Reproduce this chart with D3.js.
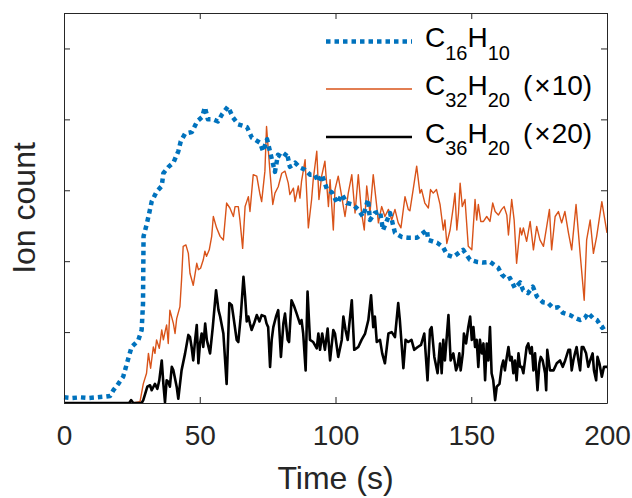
<!DOCTYPE html>
<html>
<head>
<meta charset="utf-8">
<script src="https://cdn.jsdelivr.net/npm/d3@7"></script>
<style>
  body { margin: 0; background: #fff; }
  svg { display: block; font-family: "Liberation Sans", Arial, sans-serif; }
</style>
</head>
<body>
<div id="chart"></div>
<script>
// tick values
var xTicks = [0, 50, 100, 150, 200];
var yTicks = [0, 1, 2, 3, 4, 5];

// C16H10 (blue dotted)
var tBlue = [0, 3, 6, 9, 12, 15, 17, 18.2, 20, 21.8, 23.7, 24.9, 26.5, 27.4, 28.6, 29.1, 29.3, 30.4, 31.4, 32.3,
  34.1, 36.0, 36.6, 38.5, 40.3, 42.1, 43.0, 44.6, 47.1, 49.0, 50.8, 51.9, 53.0, 54.9, 56.7, 58.2, 60.4, 62.2,
  64.1, 67.4, 69.2, 72.2, 73.3, 74.8, 76.6, 77.7, 78.8, 80.7, 82.1, 83.2, 85.1, 86.9, 88.8, 90.6, 92.4, 93.6,
  95.0, 96.9, 98.7, 100.6, 102.4, 104.2, 106.4, 108.3, 110.1, 112.0, 112.7, 114.5, 116.4, 117.5, 120.1, 121.9,
  124.5, 126.7, 130.0, 133.7, 134.1, 137.4, 139.6, 141.1, 143.3, 147.0, 149.5, 152.1, 154.3, 156.9, 159.9,
  161.3, 163.2, 164.3, 166.1, 168.0, 169.1, 170.9, 172.7, 174.2, 176.4, 178.3, 180.1, 182.0, 183.8, 186.4,
  188.2, 190.1, 191.9, 193.0, 194.8, 196.3, 198.2, 200];
var ionBlue = [0.08, 0.07, 0.08, 0.07, 0.08, 0.09, 0.10, 0.18, 0.27, 0.37, 0.63, 0.79, 0.85, 0.89, 1.03, 1.4, 2.35, 2.51, 2.68, 2.84,
  2.98, 3.06, 3.24, 3.33, 3.39, 3.55, 3.69, 3.80, 3.82, 3.97, 4.03, 4.17, 4.00, 4.00, 3.97, 4.07, 4.18, 4.03,
  3.93, 3.89, 3.74, 3.67, 3.55, 3.72, 3.43, 3.26, 3.50, 3.46, 3.53, 3.33, 3.39, 3.32, 3.29, 3.22, 3.22, 3.12,
  3.22, 3.01, 2.97, 2.82, 2.94, 2.82, 2.80, 2.73, 2.63, 2.87, 2.58, 2.68, 2.70, 2.44, 2.68, 2.40,
  2.34, 2.33, 2.33, 2.44, 2.30, 2.26, 2.20, 2.09, 2.06, 2.16, 2.02, 1.99, 1.98, 1.99, 1.91,
  1.81, 1.74, 1.76, 1.62, 1.70, 1.59, 1.55, 1.64, 1.50, 1.42, 1.41, 1.34, 1.35, 1.27, 1.24,
  1.20, 1.17, 1.20, 1.27, 1.20, 1.17, 1.06, 1.10];

// C32H20 x10 (orange)
var tOrange = [0, 10, 20, 24, 24.7, 25.5, 28.0, 29.2, 30.4, 31.1, 31.9, 32.9, 33.5, 34.1, 35.1, 36.0, 36.6, 37.2, 37.8, 38.4,
  39.0, 40.3, 40.9, 41.5, 42.7, 43.3, 43.9, 44.9, 45.8, 46.4, 47.6, 48.9, 49.5, 50.3, 51.3, 51.9, 52.5, 53.5,
  54.4, 55.0, 56.2, 57.5, 58.7, 59.9, 61.1, 62.4, 63.0, 64.2, 64.8, 65.8, 66.7, 67.3, 67.9, 68.5, 69.7, 71.0,
  72.2, 72.8, 74.0, 74.6, 75.9, 76.9, 77.7, 78.9, 80.2, 81.4, 82.6, 83.2, 84.5, 85.1, 86.3, 86.9, 87.5, 88.8,
  90.0, 91.2, 91.8, 93.1, 93.9, 94.9, 96.1, 97.4, 98.0, 99.2, 99.8, 101.0, 102.3, 103.5, 104.7, 106.0, 107.2,
  108.4, 109.6, 110.6, 111.5, 112.7, 113.9, 115.2, 115.8, 117.0, 118.2, 119.5, 120.7, 121.9, 123.1, 124.1,
  125.6, 126.8, 127.4, 128.6, 129.9, 131.1, 131.7, 132.9, 134.2, 135.0, 136.0, 137.2, 138.5, 139.7, 140.3,
  141.0, 142.2, 143.4, 144.0, 144.7, 145.3, 145.9, 146.7, 147.7, 148.9, 150.2, 151.4, 152.0, 152.6, 153.5,
  154.5, 155.7, 156.9, 157.9, 158.8, 160.0, 161.2, 162.1, 163.1, 163.7, 164.9, 165.8, 166.7, 168.0, 168.6,
  169.2, 170.4, 171.7, 172.9, 174.1, 175.3, 176.6, 177.8, 178.8, 179.6, 180.9, 182.1, 183.3, 184.5, 185.8,
  187.0, 188.6, 190.1, 191.6, 192.5, 193.8, 195.0, 196.2, 198.1, 200];
var ionOrange = [0, 0, 0, 0, 0.04, 0, 0.02, 0.27, 0.42, 0.70, 0.49, 0.79, 0.70, 0.89, 0.77, 1.03, 0.89, 1.00, 1.10, 0.84,
  1.31, 1.12, 0.98, 1.19, 1.36, 1.74, 2.21, 2.23, 2.11, 1.83, 1.66, 1.97, 1.88, 1.90, 2.02, 2.14, 2.07, 2.16,
  2.35, 2.63, 2.47, 2.35, 2.30, 2.82, 2.75, 2.63, 2.77, 2.77, 2.58, 2.18, 2.77, 2.84, 2.91, 2.70, 3.22, 3.20,
  2.94, 2.84, 3.27, 3.90, 3.24, 2.80, 2.96, 3.05, 3.24, 3.27, 3.10, 2.94, 3.03, 2.84, 3.06, 2.89, 3.13, 3.43,
  2.47, 2.87, 3.15, 3.55, 2.87, 3.20, 3.41, 2.77, 3.15, 2.44, 3.01, 3.20, 2.91, 2.63, 2.96, 3.22, 2.68,
  3.22, 2.68, 2.44, 3.06, 2.68, 3.22, 2.77, 2.54, 2.77, 2.63, 2.73, 2.58, 2.73, 2.54, 2.47,
  2.91, 2.73, 2.71, 3.01, 3.34, 2.96, 3.01, 2.82, 2.75, 3.01, 2.96, 3.01, 2.80, 2.44, 2.58,
  2.25, 2.44, 2.77, 2.96, 2.44, 2.68, 3.10, 2.77, 2.87, 2.21, 2.16, 2.87, 2.58, 2.80, 2.56,
  2.56, 2.63, 2.56, 2.82, 2.70, 2.65, 2.73, 2.77, 2.65, 2.37, 2.87, 2.58, 1.97, 2.47, 2.37,
  2.47, 2.28, 2.56, 2.16, 2.49, 2.30, 2.21, 2.49, 2.73, 2.16, 2.63, 2.70, 2.54, 2.70, 2.40,
  2.16, 2.80, 2.11, 1.45, 2.30, 2.58, 2.11, 2.35, 2.84, 2.40];

// C36H20 x20 (black)
var tBlack = [0, 10, 20, 24, 24.7, 25.5, 28.6, 29.2, 30.7, 31.7, 32.3, 33.5, 34.4, 35.1, 36.0, 36.6, 37.2, 37.8, 38.4, 39.0,
  39.7, 40.3, 41.5, 42.1, 43.3, 44.6, 45.8, 46.4, 47.0, 47.6, 48.3, 48.9, 49.5, 50.1, 50.7, 51.3, 52.0, 52.6,
  53.8, 54.8, 56.0, 56.9, 57.5, 58.7, 59.9, 60.9, 61.8, 62.4, 63.6, 64.2, 65.1, 66.1, 66.7, 67.3, 67.9, 68.5,
  69.1, 70.0, 71.0, 72.0, 72.8, 74.0, 74.6, 75.2, 75.9, 76.5, 77.1, 78.1, 78.9, 79.9, 80.8, 81.4, 82.4, 82.9,
  83.8, 84.8, 85.7, 86.9, 87.5, 88.1, 89.0, 89.7, 90.6, 91.8, 93.1, 93.7, 94.3, 95.1, 96.1, 97.1, 98.0, 99.2,
  99.8, 101.0, 102.3, 102.9, 103.7, 104.5, 106.0, 106.9, 108.4, 109.6, 110.9, 112.1, 113.1, 113.9, 114.5,
  115.2, 116.4, 117.2, 118.2, 119.5, 120.7, 121.9, 123.1, 123.7, 125.0, 125.8, 126.8, 128.0, 129.0, 130.3,
  131.5, 132.7, 133.9, 134.8, 135.4, 136.4, 137.6, 138.5, 139.1, 139.7, 140.3, 141.6, 142.4, 143.4, 144.4,
  144.9, 145.6, 146.1, 146.9, 147.3, 148.1, 148.9, 149.6, 150.2, 150.8, 151.4, 152.0, 152.6, 153.2, 153.9,
  154.5, 155.1, 155.7, 156.3, 156.9, 157.5, 158.1, 158.8, 159.4, 160.4, 161.2, 161.8, 162.4, 163.1, 163.7,
  164.3, 164.9, 165.5, 166.1, 166.7, 167.4, 168.0, 168.6, 169.2, 169.8, 170.4, 171.0, 171.7, 172.3, 172.9,
  173.5, 174.4, 175.1, 175.6, 176.3, 177.2, 177.6, 178.0, 179.0, 180.3, 181.5, 182.7, 183.7, 184.6, 185.8,
  186.4, 187.0, 187.6, 188.2, 188.8, 189.5, 190.1, 190.7, 191.3, 192.3, 193.1, 193.8, 194.7, 195.2, 196.0,
  196.5, 197.2, 198.1, 198.9, 200];
var ionBlack = [0, 0, 0, 0, 0.04, 0, 0, 0.04, 0.23, 0.25, 0.18, 0.27, 0.20, 0.32, 0.60, 0.27, 0.01, 0.32, 0.30, 0.23,
  0.51, 0.46, 0.23, 0.06, 0.46, 0.70, 0.96, 0.93, 0.79, 0.60, 0.89, 1.10, 0.56, 0.84, 0.98, 0.79, 1.12, 0.89,
  0.70, 1.07, 1.59, 1.31, 1.22, 0.98, 0.27, 1.41, 1.38, 1.22, 0.89, 0.86, 1.22, 1.78, 1.50, 1.15, 1.22, 1.12,
  1.03, 1.12, 1.24, 1.15, 1.24, 1.22, 1.12, 1.07, 0.51, 0.89, 1.07, 1.22, 1.31, 0.65, 1.12, 1.26, 0.89, 0.86,
  1.45, 1.36, 1.26, 1.12, 1.17, 0.98, 0.46, 1.57, 0.89, 0.86, 0.77, 0.98, 0.75, 0.98, 0.75, 1.05, 0.60, 1.03,
  0.98, 0.65, 0.89, 1.22, 1.03, 0.89, 1.45, 0.75, 0.79, 0.89, 0.98, 1.17, 1.52, 1.07, 1.22,
  0.86, 0.89, 0.70, 0.56, 0.98, 1.00, 0.93, 1.41, 1.17, 0.49, 0.89, 0.86, 0.89, 0.75, 0.79,
  0.82, 0.98, 0.32, 1.03, 1.07, 0.65, 0.42, 0.84, 0.42, 0.89, 0.60, 1.24, 0.60, 0.70, 0.46,
  0.51, 0.70, 0.46, 0.70, 0.98, 0.84, 1.07, 1.22, 0.89, 1.07, 0.79, 0.89, 0.51, 0.89, 0.70,
  0.84, 0.32, 0.84, 0.60, 1.07, 0.42, 0.32, 0.04, 0.23, 0.27, 0.51, 0.60, 0.46, 0.65, 0.79,
  0.60, 0.65, 0.42, 0.60, 0.32, 0.70, 0.51, 0.51, 0.42, 0.60, 0.79, 0.84, 0.70, 0.79, 0.46,
  0.70, 0.18, 0.56, 0.65, 0.60, 0.42, 0.18, 0.75, 0.46, 0.46, 0.56, 0.60, 0.51, 0.60, 0.75,
  0.75, 0.46, 0.60, 0.70, 0.79, 0.60, 0.46, 0.79, 0.79, 0.70, 0.51, 0.60, 0.70, 0.46, 0.32,
  0.65, 0.56, 0.37, 0.51, 0.51];

var legendNames = [["C", "16", "H", "10", ""], ["C", "32", "H", "20", "10"], ["C", "36", "H", "20", "20"]];

var svgWidth = 632, svgHeight = 498;
var margin = { top: 13, right: 25, bottom: 95, left: 64 };
var width = svgWidth - margin.left - margin.right;
var height = svgHeight - margin.top - margin.bottom;
var axisColor = "#262626";

var svg = d3.select("#chart").append("svg")
  .attr("width", svgWidth)
  .attr("height", svgHeight);

svg.append("rect").attr("width", svgWidth).attr("height", svgHeight).attr("fill", "#fff");

var g = svg.append("g").attr("transform", `translate(${margin.left},${margin.top})`);

var x = d3.scaleLinear().domain([0, 200]).range([0, width]);
var y = d3.scaleLinear().domain([0, 5.5]).range([height, 0]);

g.append("clipPath").attr("id", "clip")
  .append("rect").attr("x", -1).attr("y", -1).attr("width", width + 2).attr("height", height + 2);

function series(ts, vs) {
  return ts.map(function(t, i) { return [t, vs[i]]; });
}

var line = d3.line().x(d => x(d[0])).y(d => y(d[1]));

var lines = [
  { data: series(tOrange, ionOrange), color: "#D95319", w: 1.4, dash: null },
  { data: series(tBlack, ionBlack), color: "#000000", w: 2.6, dash: null },
  { data: series(tBlue, ionBlue), color: "#0072BD", w: 4.5, dash: "4.5,4" }
];

var plot = g.append("g").attr("clip-path", "url(#clip)");
lines.forEach(function(s) {
  plot.append("path")
    .datum(s.data)
    .attr("d", line)
    .attr("fill", "none")
    .attr("stroke", s.color)
    .attr("stroke-width", s.w)
    .attr("stroke-linejoin", "round")
    .attr("stroke-dasharray", s.dash);
});

// axes (box with inward ticks)
var bottom = g.append("g").attr("transform", `translate(0,${height})`)
  .call(d3.axisBottom(x).tickValues(xTicks).tickSizeInner(-6).tickSizeOuter(0));
bottom.selectAll("text").attr("y", 42).attr("dy", null)
  .style("font-size", "28px").attr("fill", axisColor);

g.append("g").call(d3.axisTop(x).tickValues(xTicks).tickSizeInner(-6).tickSizeOuter(0).tickFormat(""));
g.append("g").call(d3.axisLeft(y).tickValues(yTicks).tickSizeInner(-6).tickSizeOuter(0).tickFormat(""));
g.append("g").attr("transform", `translate(${width},0)`)
  .call(d3.axisRight(y).tickValues(yTicks).tickSizeInner(-6).tickSizeOuter(0).tickFormat(""));

g.selectAll(".domain").attr("stroke", axisColor).attr("stroke-width", 1);
g.selectAll(".tick line").attr("stroke", axisColor).attr("stroke-width", 1);

// axis labels
svg.append("text")
  .attr("x", margin.left + width / 2)
  .attr("y", 489)
  .attr("text-anchor", "middle")
  .style("font-size", "32px")
  .attr("fill", axisColor)
  .text("Time (s)");

svg.append("text")
  .attr("transform", `translate(35,${margin.top + height / 2}) rotate(-90)`)
  .attr("text-anchor", "middle")
  .style("font-size", "32px")
  .attr("fill", axisColor)
  .text("Ion count");

// legend
var legendY = [41.5, 89, 137];
var legendColors = ["#0072BD", "#D95319", "#000000"];
var legendW = [4.5, 1.4, 2.6];
var legendDash = ["4.5,4", null, null];

legendNames.forEach(function(parts, i) {
  svg.append("line")
    .attr("x1", 326).attr("x2", 412)
    .attr("y1", legendY[i]).attr("y2", legendY[i])
    .attr("stroke", legendColors[i])
    .attr("stroke-width", legendW[i])
    .attr("stroke-dasharray", legendDash[i]);

  var t = svg.append("text")
    .attr("x", 425).attr("y", legendY[i] + 5.8)
    .style("font-size", "28px")
    .attr("fill", "#000");
  t.append("tspan").text(parts[0]);
  t.append("tspan").attr("dy", 12.6).style("font-size", "20px").text(parts[1]);
  t.append("tspan").attr("dy", -12.6).text(parts[2]);
  t.append("tspan").attr("dy", 12.6).style("font-size", "20px").text(parts[3]);
  if (parts[4]) {
    t.append("tspan").attr("dy", -12.6).attr("dx", 13).text("(");
    t.append("tspan").attr("dx", 2).text("\u00d7");
    t.append("tspan").attr("dx", 1).text(parts[4] + ")");
  }
});
</script>
</body>
</html>
